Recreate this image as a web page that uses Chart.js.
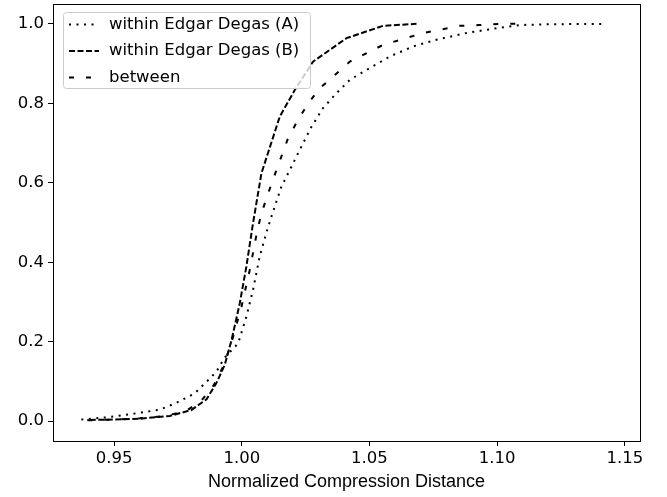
<!DOCTYPE html>
<html>
<head>
<meta charset="utf-8">
<script src="https://cdn.jsdelivr.net/npm/chart.js@4.4.1/dist/chart.umd.min.js"></script>
<style>
  body { margin: 0; background: #fff; }
  #wrap { width: 667px; height: 497px; }
</style>
</head>
<body>
<div id="wrap"><canvas id="ncdChart" width="667" height="497"></canvas></div>
<script>
// series (x = NCD, y = cumulative fraction)
const withinAX = [0.9372, 0.948, 0.960, 0.968, 0.9744, 0.9816, 0.9868, 0.990, 0.9933, 0.9986, 1.0018, 1.0044, 1.007, 1.0103, 1.0129, 1.0155, 1.0188, 1.0227, 1.0273, 1.0318, 1.037, 1.0423, 1.0488, 1.058, 1.067, 1.0762, 1.088, 1.0997, 1.1088, 1.12, 1.142];
const withinAY = [0.004, 0.010, 0.021, 0.029, 0.046, 0.070, 0.103, 0.124, 0.160, 0.196, 0.263, 0.330, 0.414, 0.489, 0.540, 0.590, 0.632, 0.683, 0.741, 0.788, 0.825, 0.859, 0.884, 0.918, 0.943, 0.960, 0.977, 0.989, 0.997, 0.999, 1.0];

const withinBX = [0.9405, 0.950, 0.960, 0.9718, 0.9803, 0.9862, 0.990, 0.9933, 0.996, 0.9992, 1.0018, 1.0044, 1.0077, 1.0149, 1.0208, 1.0279, 1.041, 1.0553, 1.0684];
const withinBY = [0.003, 0.004, 0.006, 0.013, 0.028, 0.055, 0.095, 0.141, 0.204, 0.296, 0.389, 0.498, 0.624, 0.767, 0.834, 0.905, 0.964, 0.995, 1.0];

const betweenX = [0.9395, 0.950, 0.960, 0.970, 0.978, 0.984, 0.989, 0.9933, 0.9966, 0.9999, 1.0031, 1.006, 1.0077, 1.0103, 1.0129, 1.0155, 1.0181, 1.022, 1.026, 1.0305, 1.0364, 1.0423, 1.0553, 1.071, 1.0853, 1.093, 1.101, 1.109];
const betweenY = [0.002, 0.004, 0.007, 0.013, 0.025, 0.050, 0.090, 0.145, 0.212, 0.288, 0.380, 0.477, 0.523, 0.573, 0.620, 0.666, 0.712, 0.758, 0.800, 0.838, 0.871, 0.905, 0.947, 0.977, 0.995, 0.997, 1.0, 1.0];

const seriesLabels = ['within Edgar Degas (A)', 'within Edgar Degas (B)', 'between'];
const xTicks = [0.95, 1.00, 1.05, 1.10, 1.15];
const yTicks = [0.0, 0.2, 0.4, 0.6, 0.8, 1.0];

const toPoints = (xs, ys) => xs.map((x, i) => ({ x: x, y: ys[i] }));

const tickFont = { family: 'DejaVu Sans', size: 16.5 };

// matplotlib-style frame and in-axes legend
const frameAndLegend = {
    id: 'frameAndLegend',
    afterDatasetsDraw(chart) {
        const ctx = chart.ctx;
        const a = chart.chartArea;
        ctx.save();
        ctx.strokeStyle = '#000';
        ctx.lineWidth = 1;
        ctx.setLineDash([]);
        ctx.strokeRect(Math.round(a.left) + 0.5, Math.round(a.top) + 0.5,
            Math.round(a.right - a.left), Math.round(a.bottom - a.top));

        // legend box
        const bx = a.left + 10, by = a.top + 8, bw = 247, bh = 76;
        ctx.beginPath();
        ctx.roundRect(bx + 0.5, by + 0.5, bw, bh, 3);
        ctx.fillStyle = 'rgba(255,255,255,0.8)';
        ctx.fill();
        ctx.strokeStyle = '#cccccc';
        ctx.stroke();

        ctx.font = '16.5px "DejaVu Sans"';
        ctx.textBaseline = 'middle';
        ctx.textAlign = 'left';
        chart.data.datasets.forEach((ds, i) => {
            const y = by + 12.5 + i * 26.5;
            ctx.beginPath();
            ctx.setLineDash(ds.borderDash);
            ctx.lineWidth = ds.borderWidth;
            ctx.strokeStyle = '#000';
            ctx.moveTo(bx + 6, y);
            ctx.lineTo(bx + 36, y);
            ctx.stroke();
            ctx.setLineDash([]);
            ctx.fillStyle = '#000';
            ctx.fillText(ds.label, bx + 46, y);
        });
        ctx.restore();
    }
};

const noEdgePadding = (axis) => {
    axis.paddingTop = 0;
    axis.paddingBottom = 0;
    axis.paddingLeft = 0;
    axis.paddingRight = 0;
};

const ctx = document.getElementById('ncdChart').getContext('2d');
const ncdChart = new Chart(ctx, {
    type: 'line',
    data: {
        datasets: [{
            label: seriesLabels[0],
            data: toPoints(withinAX, withinAY),
            borderColor: '#000',
            borderWidth: 2,
            borderDash: [2, 5.5],
            borderCapStyle: 'butt'
        }, {
            label: seriesLabels[1],
            data: toPoints(withinBX, withinBY),
            borderColor: '#000',
            borderWidth: 2,
            borderDash: [6, 2.5],
            borderCapStyle: 'butt'
        }, {
            label: seriesLabels[2],
            data: toPoints(betweenX, betweenY),
            borderColor: '#000',
            borderWidth: 2,
            borderDash: [5, 12],
            borderCapStyle: 'butt'
        }]
    },
    options: {
        responsive: false,
        animation: false,
        elements: {
            point: { radius: 0, hoverRadius: 0 },
            line: { tension: 0, fill: false }
        },
        layout: {
            padding: { left: 0, right: 27, top: 4, bottom: 0 }
        },
        plugins: {
            legend: { display: false },
            tooltip: { enabled: false }
        },
        scales: {
            x: {
                type: 'linear',
                min: 0.9261,
                max: 1.1559,
                afterBuildTicks: (axis) => { axis.ticks = xTicks.map(v => ({ value: v })); },
                afterFit: (axis) => { axis.height = 56; noEdgePadding(axis); },
                grid: {
                    drawOnChartArea: false,
                    drawTicks: true,
                    tickLength: 5,
                    tickColor: '#000',
                    tickWidth: 1
                },
                border: { display: false },
                ticks: {
                    color: '#000',
                    font: tickFont,
                    padding: 3,
                    maxRotation: 0,
                    callback: (v) => Number(v).toFixed(2)
                },
                title: {
                    display: true,
                    text: 'Normalized Compression Distance',
                    color: '#000',
                    font: { family: 'Liberation Sans', size: 18 },
                    padding: { top: 0, bottom: 4 }
                }
            },
            y: {
                type: 'linear',
                min: -0.05,
                max: 1.05,
                afterBuildTicks: (axis) => { axis.ticks = yTicks.map(v => ({ value: v })); },
                afterFit: (axis) => { axis.width = 53; noEdgePadding(axis); },
                grid: {
                    drawOnChartArea: false,
                    drawTicks: true,
                    tickLength: 5,
                    tickColor: '#000',
                    tickWidth: 1
                },
                border: { display: false },
                ticks: {
                    color: '#000',
                    font: tickFont,
                    padding: 4,
                    callback: (v) => Number(v).toFixed(1)
                }
            }
        }
    },
    plugins: [frameAndLegend]
});
</script>
</body>
</html>
